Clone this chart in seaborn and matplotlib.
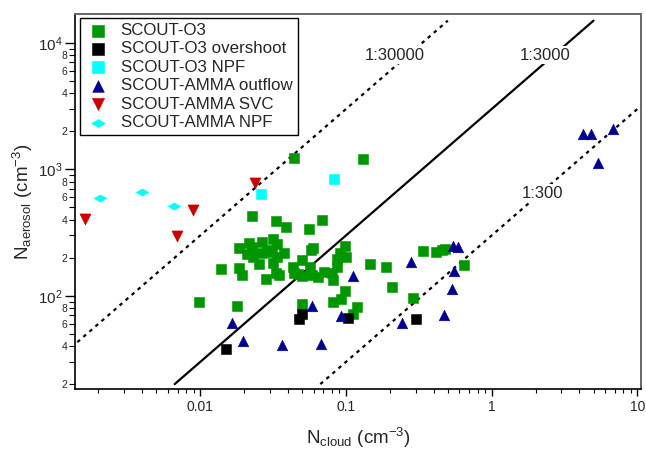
import numpy as np
import pandas as pd
import matplotlib
matplotlib.use('Agg')
import matplotlib.pyplot as plt
import seaborn as sns
from matplotlib.ticker import FixedLocator, FuncFormatter, NullFormatter
from matplotlib.path import Path

# ---------------- data ----------------
o3_x = [0.0440, 0.1314, 0.0225, 0.0329, 0.0386, 0.0557, 0.0681, 0.00975, 0.0139, 0.0178,
        0.0184, 0.0185, 0.0193, 0.0208, 0.0217, 0.0226, 0.0229, 0.0252, 0.0267, 0.0283,
        0.0286, 0.0309, 0.0317, 0.0335, 0.0338, 0.0331, 0.0347, 0.0375, 0.0435, 0.0442,
        0.0497, 0.0499, 0.0501, 0.0575, 0.0591, 0.0566, 0.0581, 0.0639, 0.0710, 0.0805,
        0.0818, 0.0863, 0.0872, 0.0910, 0.0985, 0.100, 0.0985, 0.0920, 0.0811, 0.1196,
        0.1117, 0.1468, 0.189, 0.208, 0.288, 0.338, 0.413, 0.456, 0.478, 0.643,
        0.0267, 0.0314, 0.0471]
o3_y = [1222, 1200, 430, 392, 348, 335, 397, 89.7, 163, 82.5,
        238, 167, 146, 214, 263, 242, 201, 178, 267, 136,
        230, 223, 279, 256, 204, 152, 145, 216, 170, 150,
        192, 143, 86, 230, 237, 170, 146, 141, 155, 150,
        133, 194, 170, 216, 247, 201, 110, 95, 89, 82,
        72, 178, 170, 117, 96, 227, 222, 230, 233, 176,
        216, 182, 148]

over_x = [0.0151, 0.0478, 0.0499, 0.1037, 0.301]
over_y = [37.7, 65.1, 71.3, 66.2, 65.8]

o3npf_x = [0.0261, 0.0832]
o3npf_y = [634, 834]

out_x = [0.0166, 0.0196, 0.0365, 0.0677, 0.0585, 0.0929, 0.1122, 0.278, 0.2423, 0.469,
         0.534, 0.555, 0.542, 0.584, 4.25, 4.83, 6.83, 5.37]
out_y = [61.2, 43.8, 40.5, 41.5, 82.9, 69.5, 143.9, 183.6, 60.5, 70.6,
         113, 158, 247, 244, 1901, 1892, 2073, 1115]

svc_x = [0.00162, 0.00895, 0.00697, 0.0238]
svc_y = [402, 477, 297, 774]

ammanpf_x = [0.00205, 0.00396, 0.00664]
ammanpf_y = [590, 661, 515]

ratios = [30000, 3000, 300]
ratio_labels = ['1:30000', '1:3000', '1:300']
ratio_styles = ['dotted', 'solid', 'dotted']
line_yrange = [20, 15000]
label_pos = [(0.2153, 8017), (2.322, 8017), (2.239, 649)]

# ---------------- style ----------------
sns.set_style('white')
plt.rcParams['font.family'] = ['Liberation Sans', 'DejaVu Sans']
plt.rcParams['mathtext.fontset'] = 'custom'
plt.rcParams['mathtext.rm'] = 'Liberation Sans'
plt.rcParams['mathtext.it'] = 'Liberation Sans:italic'
plt.rcParams['mathtext.bf'] = 'Liberation Sans:bold'

fig = plt.figure(figsize=(6.46, 4.5), dpi=100)
ax = fig.add_axes([75/646, 1-389.3/450, (641-75)/646, (389.3-14)/450])
ax.set_xscale('log')
ax.set_yscale('log')
ax.set_xlim(0.00138, 10.59)
ax.set_ylim(18.2, 16930)

# ratio lines
for r, st in zip(ratios, ratio_styles):
    yy = np.array(line_yrange, dtype=float)
    xx = yy / r
    if st == 'dotted':
        ax.plot(xx, yy, color='black', lw=1.6, linestyle=(0, (1.6, 2.0)), zorder=2)
    else:
        ax.plot(xx, yy, color='black', lw=1.6, zorder=2)
for (lx, ly), lab in zip(label_pos, ratio_labels):
    ax.text(lx, ly, lab, fontsize=12, ha='center', va='center', zorder=3,
            bbox=dict(facecolor='white', edgecolor='none', pad=1.0))

diamond = Path([(-1, 0), (0, 0.58), (1, 0), (0, -0.58), (-1, 0)],
               [Path.MOVETO, Path.LINETO, Path.LINETO, Path.LINETO, Path.CLOSEPOLY])

series = [
    (o3_x, o3_y, 'SCOUT-O3', 's', '#009600', 54),
    (over_x, over_y, 'SCOUT-O3 overshoot', 's', '#000000', 54),
    (o3npf_x, o3npf_y, 'SCOUT-O3 NPF', 's', '#00FFFF', 54),
    (out_x, out_y, 'SCOUT-AMMA outflow', '^', '#00008F', 58),
    (svc_x, svc_y, 'SCOUT-AMMA SVC', 'v', '#CC0000', 64),
    (ammanpf_x, ammanpf_y, 'SCOUT-AMMA NPF', diamond, '#00FFFF', 80),
]
for xs, ys, lab, mk, col, sz in series:
    df = pd.DataFrame({'x': xs, 'y': ys})
    sns.scatterplot(data=df, x='x', y='y', ax=ax, marker=mk, color=col, s=sz,
                    edgecolor=col, linewidth=0.4, label=lab, zorder=4)

# ticks
ax.xaxis.set_major_locator(FixedLocator([0.001, 0.01, 0.1, 1, 10]))
ax.xaxis.set_major_formatter(FuncFormatter(lambda v, p: {0.001: '0.001', 0.01: '0.01', 0.1: '0.1', 1: '1', 10: '10'}.get(round(v, 6), '')))
xminor = [m * 10.0**e for e in range(-3, 2) for m in range(2, 10)]
ax.xaxis.set_minor_locator(FixedLocator(xminor))
ax.xaxis.set_minor_formatter(NullFormatter())

ax.yaxis.set_major_locator(FixedLocator([10, 100, 1000, 10000]))
ax.yaxis.set_major_formatter(FuncFormatter(lambda v, p: r'$10^{%d}$' % int(round(np.log10(v)))))
yminor = [m * 10.0**e for e in range(1, 5) for m in range(2, 10)]
ax.yaxis.set_minor_locator(FixedLocator(yminor))
def yminfmt(v, p):
    m = int(round(v / 10.0**np.floor(np.log10(v) + 1e-9)))
    return str(m) if m in (2, 4, 6, 8) else ''
ax.yaxis.set_minor_formatter(FuncFormatter(yminfmt))

ax.tick_params(axis='x', which='major', direction='out', length=5, width=1, labelsize=10, color='black', pad=3, bottom=True)
ax.tick_params(axis='x', which='minor', direction='out', length=3, width=0.8, color='black', bottom=True)
ax.tick_params(axis='y', which='major', direction='out', length=7, width=1, labelsize=11, color='black', pad=2, left=True)
ax.tick_params(axis='y', which='minor', direction='out', length=4, width=0.8, labelsize=7.5, color='black', pad=1.5, left=True)

for s in ['left', 'bottom']:
    ax.spines[s].set_color('black')
    ax.spines[s].set_linewidth(1.2)
for s in ['top', 'right']:
    ax.spines[s].set_color('#666666')
    ax.spines[s].set_linewidth(1.4)

ax.set_xlabel(r'N$_{\mathrm{cloud}}$ (cm$^{-3}$)', fontsize=13.5)
ax.set_ylabel(r'N$_{\mathrm{aerosol}}$ (cm$^{-3}$)', fontsize=13.5)
ax.xaxis.set_label_coords(0.5, -0.098)
ax.yaxis.set_label_coords(-0.07, 0.5)

leg = ax.legend(loc='upper left', bbox_to_anchor=(5/566, 1-4/375.3), borderaxespad=0,
                fontsize=12.2, frameon=True, fancybox=False, framealpha=1,
                edgecolor='black', scatterpoints=1, handletextpad=0.6,
                labelspacing=0.2, borderpad=0.3, handlelength=1.5, markerscale=1.1)
leg.get_frame().set_linewidth(1.0)

fig.savefig('out.png', dpi=100)
